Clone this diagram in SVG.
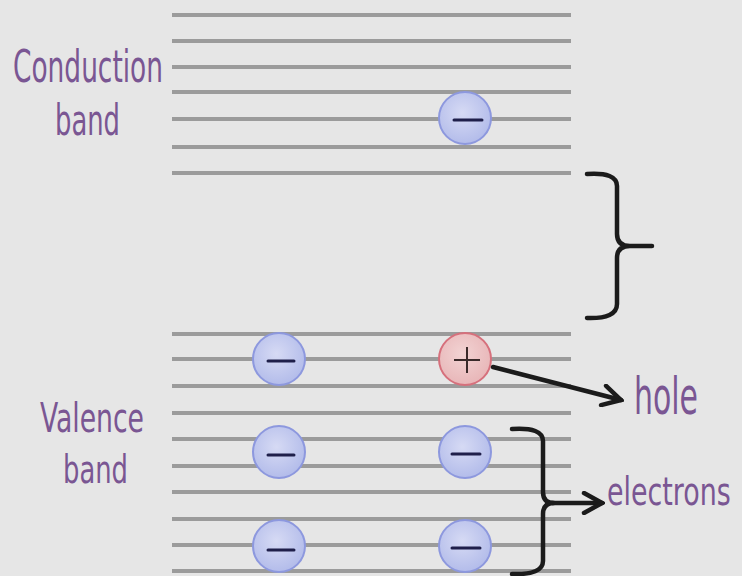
<svg xmlns="http://www.w3.org/2000/svg" width="742" height="576" viewBox="0 0 742 576">
<style>
.bg{fill:#e6e6e6}
.lvl{stroke:#9b9b9b;stroke-width:4;fill:none}
.lbl{font-family:"DejaVu Sans Condensed","DejaVu Sans",sans-serif;fill:#7a5693}
.el{fill:url(#gEl);stroke:#8d98de;stroke-width:2}
.ho{fill:url(#gHo);stroke:#d6707c;stroke-width:2}
.minus{stroke:#1f1f4a;stroke-width:3;stroke-linecap:round}
.plus{stroke:#3a2a2a;stroke-width:2;fill:none}
.ink{stroke:#1b1b1b;stroke-width:4.5;fill:none;stroke-linecap:round;stroke-linejoin:round}
</style>
<defs>
<radialGradient id="gEl" cx="0.45" cy="0.4" r="0.6">
<stop offset="0" stop-color="#d6daf4"/>
<stop offset="1" stop-color="#b3bcea"/>
</radialGradient>
<radialGradient id="gHo" cx="0.45" cy="0.4" r="0.6">
<stop offset="0" stop-color="#f2d3d3"/>
<stop offset="1" stop-color="#e8b6b8"/>
</radialGradient>
<marker id="arr" markerUnits="userSpaceOnUse" viewBox="0 0 24 24" markerWidth="24" markerHeight="24" refX="21" refY="12" orient="auto">
<path d="M3,2 L21,12 L3,22" fill="none" stroke="#1b1b1b" stroke-width="4.5" stroke-linecap="round" stroke-linejoin="miter"/>
</marker>
</defs>
<rect class="bg" x="0" y="0" width="742" height="576"/>

<g id="conduction-band">
<path class="lvl" d="M172,15H571M172,41H571M172,67H571M172,92H571M172,119H571M172,147H571M172,173H571"/>
<text class="lbl" x="13" y="82" font-size="44" textLength="150" lengthAdjust="spacingAndGlyphs">Conduction</text>
<text class="lbl" x="55" y="135" font-size="43" textLength="65" lengthAdjust="spacingAndGlyphs">band</text>
</g>

<g id="valence-band">
<path class="lvl" d="M172,334H571M172,359H571M172,386H571M172,413H571M172,439H571M172,466H571M172,492H571M172,519H571M172,545H571M172,571H571"/>
<text class="lbl" x="40" y="432" font-size="41" textLength="104" lengthAdjust="spacingAndGlyphs">Valence</text>
<text class="lbl" x="63" y="483" font-size="39" textLength="65" lengthAdjust="spacingAndGlyphs">band</text>
</g>

<g id="electron-conduction">
<circle class="el" cx="465" cy="118" r="26"/>
<line class="minus" x1="454" y1="120" x2="482" y2="120"/>
</g>
<g id="electron-v1">
<circle class="el" cx="279" cy="359" r="26"/>
<line class="minus" x1="268" y1="361" x2="294" y2="361"/>
</g>
<g id="hole">
<circle class="ho" cx="465" cy="359" r="26"/>
<path class="plus" d="M454,360H480M467,347V373"/>
</g>
<g id="electron-v2">
<circle class="el" cx="279" cy="452" r="26"/>
<line class="minus" x1="268" y1="455" x2="294" y2="455"/>
</g>
<g id="electron-v3">
<circle class="el" cx="465" cy="452" r="26"/>
<line class="minus" x1="452" y1="454" x2="480" y2="454"/>
</g>
<g id="electron-v4">
<circle class="el" cx="279" cy="546" r="26"/>
<line class="minus" x1="268" y1="550" x2="294" y2="550"/>
</g>
<g id="electron-v5">
<circle class="el" cx="465" cy="546" r="26"/>
<line class="minus" x1="452" y1="548" x2="480" y2="548"/>
</g>

<g id="gap-brace">
<path class="ink" d="M587,174 Q617,172 617,186 L617,234 Q617,246 630,246 L652,246 M630,246 Q617,246 617,258 L617,304 Q617,319 587,318"/>
</g>

<g id="hole-label">
<text class="lbl" x="634" y="414" font-size="51" textLength="64" lengthAdjust="spacingAndGlyphs">hole</text>
</g>
<g id="electrons-label">
<text class="lbl" transform="translate(607,505) scale(0.75,1)" x="0" y="0" font-size="39" textLength="165" lengthAdjust="spacingAndGlyphs">electrons</text>
</g>

<g id="connectors">
<path class="ink" d="M512,429 Q543,427 543,441 L543,492 Q543,503 554,503 M554,503 Q543,503 543,514 L543,561 Q543,575 512,574"/>
<line class="ink" x1="552" y1="503" x2="602" y2="503" marker-end="url(#arr)"/>
<line class="ink" x1="493" y1="367" x2="621" y2="400" marker-end="url(#arr)"/>
</g>
</svg>
